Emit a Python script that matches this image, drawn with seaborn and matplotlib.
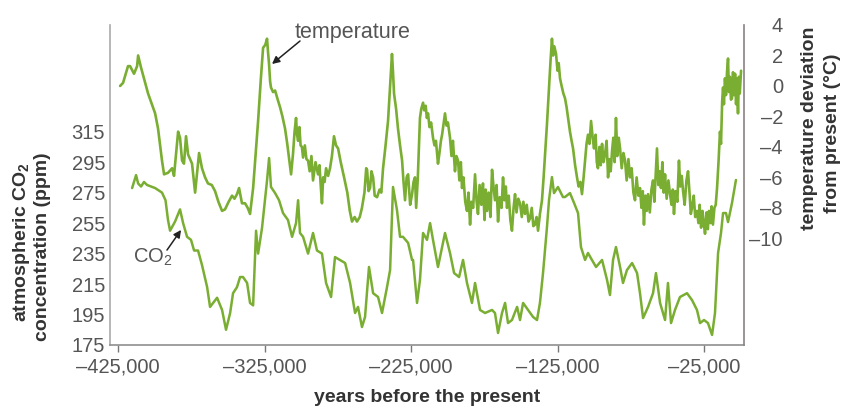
import numpy as np
import pandas as pd
import matplotlib
matplotlib.use("Agg")
import matplotlib.pyplot as plt
import seaborn as sns

# ---------------- data: (thousand years before present, value) ----------------
temp_glacial_early = [
    (-423.6, 0.0), (-421.6, 0.2), (-418.2, 1.3), (-416.8, 1.3), (-414.1, 0.8),
    (-412.0, 1.3), (-411.3, 2.0), (-409.3, 1.2), (-404.5, -0.5), (-399.7, -1.8),
    (-397.7, -2.8), (-395.0, -4.9), (-393.6, -5.8), (-390.9, -5.7), (-388.1, -5.4),
    (-386.8, -5.9), (-384.0, -3.0), (-382.7, -3.4), (-381.3, -4.9), (-380.0, -5.1),
    (-378.6, -3.3), (-377.2, -4.5), (-374.5, -5.1), (-372.4, -7.0), (-369.7, -4.4),
    (-367.7, -5.4), (-365.6, -6.0), (-363.6, -6.4), (-361.0, -6.5), (-358.8, -6.9),
    (-356.5, -7.6), (-354.0, -8.2), (-352.0, -8.1), (-349.5, -7.6), (-347.2, -7.2),
    (-345.5, -7.4), (-343.8, -7.1), (-342.4, -6.7), (-340.4, -7.7), (-338.3, -7.7),
    (-336.5, -8.0), (-334.9, -8.4), (-332.8, -6.7),
]
temp_cycle_325k = [
    (-329.4, -2.3), (-327.5, 0.5), (-326.0, 2.5), (-324.5, 2.7), (-323.3, 3.1),
    (-322.6, 2.2), (-321.9, 1.4), (-321.2, 0.3), (-320.6, -0.1), (-319.2, -0.4),
    (-317.8, -0.3), (-316.0, -0.9), (-314.4, -1.4), (-312.8, -2.0), (-311.0, -2.8),
    (-309.5, -3.8), (-308.2, -4.8), (-306.9, -5.8), (-305.6, -4.5), (-304.5, -3.0),
    (-303.5, -2.1), (-302.8, -3.2), (-302.1, -3.6), (-301.2, -2.7), (-300.4, -3.9),
    (-299.5, -4.0), (-298.7, -4.7), (-297.5, -3.9), (-296.4, -4.8), (-295.3, -4.9),
    (-294.2, -5.6), (-293.0, -4.6), (-291.9, -6.2), (-290.2, -5.0), (-288.5, -5.8),
    (-287.5, -5.2), (-286.6, -6.6), (-285.8, -7.7), (-285.0, -6.0), (-284.0, -6.3),
    (-283.0, -5.4), (-281.6, -5.9), (-280.3, -5.4), (-279.0, -4.6), (-277.6, -3.3),
    (-276.2, -3.9), (-274.8, -4.1), (-273.0, -5.0), (-270.7, -6.0), (-268.5, -7.0),
    (-266.8, -8.2), (-265.3, -8.9), (-263.5, -8.6), (-261.9, -8.9), (-260.0, -8.6),
    (-258.5, -8.0), (-256.8, -7.0), (-255.6, -5.4), (-255.0, -5.5), (-254.0, -6.9),
    (-253.0, -6.7), (-252.0, -5.6), (-250.9, -6.0), (-249.8, -7.2), (-248.2, -7.3),
    (-246.5, -6.8), (-245.3, -7.0), (-244.1, -5.4), (-242.5, -4.0), (-240.7, -2.3),
    (-239.2, 0.2), (-238.0, 2.1), (-237.3, 0.9), (-236.6, -0.5), (-235.2, -1.5),
    (-233.9, -2.8), (-232.5, -3.9), (-231.1, -4.9), (-230.2, -6.2), (-229.1, -7.5),
    (-228.0, -6.0), (-227.0, -5.8), (-225.6, -7.8), (-224.3, -7.1), (-223.3, -6.3),
]
temp_cycle_200k = [
    (-222.3, -6.0), (-221.5, -8.0), (-220.4, -6.1), (-219.6, -4.0), (-218.9, -2.1),
    (-218.0, -1.5), (-216.8, -1.1), (-216.0, -1.6), (-215.0, -1.3), (-214.2, -2.1),
    (-213.4, -1.8), (-212.4, -2.7), (-211.3, -2.4), (-210.0, -3.4), (-209.0, -3.9),
    (-208.0, -3.6), (-206.6, -5.1), (-205.6, -4.4), (-204.6, -3.6), (-203.8, -3.2),
    (-202.8, -2.5), (-201.8, -1.8), (-200.8, -2.6), (-199.8, -2.4), (-198.4, -3.4),
    (-197.4, -4.6), (-196.4, -3.6), (-195.0, -5.6), (-194.0, -4.6), (-192.9, -4.9),
    (-192.0, -6.2), (-191.0, -5.0), (-190.2, -6.7), (-189.2, -6.0), (-188.0, -7.6),
    (-186.8, -8.2), (-185.8, -7.0), (-184.7, -9.1), (-183.8, -7.6), (-182.6, -8.0),
    (-181.3, -5.8), (-180.3, -7.5), (-179.3, -8.4), (-178.2, -6.5), (-177.0, -7.8),
    (-175.9, -6.4), (-174.8, -8.8), (-174.0, -6.8), (-173.1, -8.2), (-172.0, -7.0),
    (-170.8, -8.6), (-169.7, -5.5), (-168.7, -6.6), (-167.7, -7.5), (-166.6, -6.5),
    (-165.6, -8.9), (-164.5, -7.3), (-163.2, -8.0), (-162.2, -6.0), (-161.2, -7.5),
    (-160.3, -6.6), (-159.5, -8.0), (-158.3, -7.2), (-157.2, -8.8), (-156.1, -9.5),
    (-155.0, -8.0), (-154.0, -7.1), (-153.0, -8.3), (-151.8, -7.4), (-150.6, -7.7),
    (-149.4, -8.6), (-148.3, -7.6), (-147.2, -8.4), (-146.0, -7.8), (-144.8, -8.9),
    (-143.8, -8.7), (-142.6, -8.0), (-141.5, -9.2), (-140.4, -9.1), (-139.3, -8.6),
    (-138.3, -9.5), (-137.0, -8.4), (-135.6, -7.5), (-134.5, -6.0), (-133.5, -4.5),
]
temp_cycle_recent = [
    (-132.2, -2.5), (-130.8, -0.1), (-129.8, 1.6), (-128.8, 3.1), (-128.0, 2.0),
    (-127.2, 2.6), (-126.0, 2.1), (-125.0, 1.0), (-124.2, 1.5), (-123.3, 0.5),
    (-122.2, 0.0), (-121.0, -0.5), (-119.9, -0.8), (-118.8, -1.4), (-117.8, -2.1),
    (-116.5, -3.0), (-115.4, -3.6), (-114.4, -4.1), (-113.0, -5.2), (-111.7, -6.0),
    (-110.6, -6.6), (-109.4, -6.3), (-108.3, -7.1), (-107.2, -6.0), (-106.2, -4.9),
    (-105.2, -3.8), (-104.2, -3.2), (-103.2, -3.8), (-102.1, -2.3), (-101.0, -3.4),
    (-100.1, -4.1), (-99.0, -3.2), (-98.2, -5.0), (-97.4, -5.4), (-96.4, -4.0),
    (-95.5, -5.2), (-94.6, -3.8), (-93.6, -5.0), (-92.6, -4.5), (-91.5, -3.6),
    (-90.5, -6.0), (-89.6, -4.8), (-88.7, -5.6), (-87.8, -4.3), (-86.9, -3.4),
    (-86.0, -5.0), (-85.1, -2.1), (-84.2, -4.6), (-83.2, -3.4), (-82.3, -4.1),
    (-81.2, -5.4), (-80.0, -4.4), (-78.9, -4.9), (-77.8, -6.2), (-76.6, -4.8),
    (-75.5, -6.0), (-74.4, -5.4), (-73.2, -7.0), (-72.1, -7.5), (-71.0, -6.0),
    (-69.8, -7.2), (-68.7, -6.7), (-67.7, -8.0), (-66.8, -6.9), (-66.0, -9.1),
    (-65.0, -7.2), (-64.1, -8.2), (-63.2, -7.1), (-62.0, -8.3), (-60.9, -6.8),
    (-59.8, -6.2), (-58.9, -7.6), (-58.0, -5.8), (-57.1, -4.1), (-56.2, -6.5),
    (-55.3, -5.6), (-54.4, -6.7), (-53.4, -5.0), (-52.5, -7.0), (-51.6, -5.8),
    (-50.5, -7.4), (-49.3, -6.2), (-48.2, -7.1), (-47.2, -7.8), (-46.3, -6.8),
    (-45.5, -8.4), (-44.5, -6.9), (-43.2, -7.6), (-42.1, -4.9), (-41.2, -6.6),
    (-40.2, -5.9), (-39.3, -6.9), (-38.2, -7.8), (-37.0, -6.2), (-35.9, -5.6),
    (-34.9, -7.0), (-34.0, -8.4), (-33.2, -8.0), (-32.0, -7.2), (-31.0, -8.6),
    (-29.8, -8.2), (-28.8, -9.0), (-28.0, -7.8), (-27.0, -9.3), (-26.0, -8.2),
    (-25.2, -9.0), (-24.3, -9.7), (-23.3, -8.3), (-22.4, -9.4), (-21.6, -8.2),
    (-20.6, -9.0), (-19.8, -7.9), (-18.9, -9.1), (-17.9, -8.0), (-17.0, -7.8),
    (-16.1, -6.7), (-15.1, -5.0), (-14.1, -3.0), (-13.4, -3.8), (-12.6, -1.0),
    (-12.0, -0.1), (-11.4, -1.2), (-10.7, 0.5), (-10.0, -0.6), (-9.3, 0.9),
    (-8.6, 1.8), (-8.0, -0.4), (-7.3, 0.6), (-6.6, -0.9), (-5.9, -0.8),
    (-5.2, 0.9), (-4.5, -0.6), (-3.8, 0.8), (-3.1, -1.2), (-2.5, 0.5),
    (-1.8, -1.8), (-1.2, 0.6), (-0.6, -0.5), (0.3, 1.0),
]

co2_early = [
    (-415.4, 278.0), (-412.7, 286.5), (-411.3, 281.0), (-409.3, 279.0), (-407.3, 282.0),
    (-405.2, 280.0), (-399.7, 278.0), (-395.0, 275.0), (-392.6, 270.0), (-390.9, 257.0),
    (-389.5, 250.0), (-386.1, 256.0), (-382.7, 264.0), (-380.6, 255.0), (-377.9, 246.0),
    (-375.2, 244.0), (-373.1, 237.0), (-370.4, 237.0), (-367.7, 227.5), (-364.2, 213.0),
    (-362.2, 200.0), (-357.4, 206.0), (-354.0, 198.0), (-351.3, 185.0), (-348.5, 196.0),
    (-346.5, 209.0), (-343.8, 213.0), (-341.7, 219.6), (-339.7, 219.6), (-336.9, 215.7),
    (-334.9, 202.6), (-332.8, 201.0),
]
co2_middle = [
    (-330.8, 250.0), (-329.4, 235.0), (-326.7, 252.0), (-323.3, 283.0), (-321.9, 297.7),
    (-320.6, 278.7), (-317.8, 274.7), (-315.1, 270.0), (-312.4, 261.6), (-309.0, 257.0),
    (-306.2, 246.0), (-303.5, 255.0), (-302.1, 270.0), (-300.8, 248.5), (-298.7, 246.0),
    (-295.3, 235.0), (-291.9, 248.5), (-289.2, 237.0), (-285.8, 235.0), (-283.0, 215.7),
    (-279.6, 206.5), (-276.9, 232.7), (-273.5, 230.8), (-270.0, 228.8), (-266.6, 215.7),
    (-263.2, 196.0), (-261.2, 200.0), (-258.5, 186.8), (-256.4, 193.4), (-253.7, 226.2),
    (-250.9, 209.0), (-247.5, 206.5), (-244.8, 196.0), (-241.4, 213.0), (-239.3, 224.2),
    (-237.3, 278.7), (-234.6, 263.6), (-232.5, 246.0), (-230.5, 246.0), (-227.0, 242.0),
    (-224.3, 230.8), (-223.6, 230.8), (-220.9, 202.6), (-218.9, 217.7), (-216.8, 248.5),
    (-214.1, 244.0), (-212.0, 255.0), (-210.0, 244.0), (-206.6, 226.2), (-203.8, 239.3),
    (-201.8, 248.5), (-198.4, 235.4), (-195.6, 222.2), (-192.2, 219.6), (-189.5, 230.8),
    (-186.8, 215.7), (-183.4, 202.6), (-181.3, 215.7), (-177.9, 198.0), (-174.5, 196.0),
    (-169.7, 198.0), (-167.7, 196.0), (-165.6, 182.9), (-162.9, 196.0), (-160.8, 202.6),
    (-158.8, 189.4), (-156.1, 191.4), (-152.6, 200.0), (-150.6, 191.4), (-148.5, 202.6),
    (-145.1, 198.0), (-141.7, 193.4), (-139.0, 191.4), (-137.0, 202.6), (-134.9, 222.2),
    (-132.2, 252.4), (-130.8, 270.1), (-128.8, 285.2),
]
co2_recent = [
    (-127.4, 274.7), (-124.7, 278.7), (-121.3, 272.1), (-119.9, 272.1), (-116.5, 274.7),
    (-113.7, 268.2), (-111.0, 261.6), (-109.0, 239.3), (-106.2, 230.8), (-104.2, 235.4),
    (-101.5, 230.8), (-98.7, 226.2), (-94.6, 230.8), (-91.2, 217.7), (-89.2, 207.8),
    (-87.1, 230.8), (-85.1, 239.3), (-82.3, 226.2), (-80.3, 215.7), (-77.6, 224.2),
    (-74.1, 228.8), (-70.7, 222.2), (-68.7, 209.0), (-66.6, 192.7), (-63.2, 200.0),
    (-59.8, 209.0), (-57.8, 222.2), (-55.0, 202.6), (-51.6, 191.4), (-49.6, 215.7),
    (-47.5, 189.4), (-44.8, 198.0), (-41.4, 206.5), (-36.6, 209.0), (-33.2, 204.5),
    (-29.8, 198.0), (-27.7, 189.4), (-25.0, 191.4), (-22.3, 189.4), (-19.5, 181.6),
    (-17.5, 196.0), (-15.4, 235.4), (-13.4, 248.5), (-12.0, 261.6), (-10.0, 261.6),
    (-8.6, 255.7), (-5.9, 268.2), (-3.2, 283.3),
]

x_ticks = [-425000, -325000, -225000, -125000, -25000]
x_tick_labels = ["\u2013425,000", "\u2013325,000", "\u2013225,000", "\u2013125,000", "\u201325,000"]
co2_ticks = [175, 195, 215, 235, 255, 275, 295, 315]
temp_ticks = [-10, -8, -6, -4, -2, 0, 2, 4]
temp_tick_labels = ["\u201310", "\u20138", "\u20136", "\u20134", "\u20132", "0", "2", "4"]

# ---------------- styling ----------------
sns.set_theme(style="white")
plt.rcParams["font.family"] = ["Liberation Sans", "DejaVu Sans"]
plt.rcParams["mathtext.fontset"] = "custom"
plt.rcParams["mathtext.rm"] = "Liberation Sans"
plt.rcParams["mathtext.it"] = "Liberation Sans:italic"
plt.rcParams["mathtext.bf"] = "Liberation Sans:bold"

GREEN = "#7aae32"
TICK_C = "#555555"
LABEL_C = "#333333"
W, H = 845, 409

temp_pts = temp_glacial_early + temp_cycle_325k + temp_cycle_200k + temp_cycle_recent
co2_pts = co2_early + co2_middle + co2_recent
temp_df = pd.DataFrame({"year": [p[0] * 1000 for p in temp_pts],
                        "temp": [p[1] for p in temp_pts]})
co2_df = pd.DataFrame({"year": [p[0] * 1000 for p in co2_pts],
                       "co2": [p[1] for p in co2_pts]})

fig = plt.figure(figsize=(W / 100, H / 100), dpi=100)
fig.patch.set_facecolor("white")
ax = fig.add_axes([110 / W, 1 - 345 / H, 634 / W, 320 / H])

sns.lineplot(data=co2_df, x="year", y="co2", ax=ax, color=GREEN, lw=1.8,
             sort=False, estimator=None)
ax2 = ax.twinx()
sns.lineplot(data=temp_df, x="year", y="temp", ax=ax2, color=GREEN, lw=1.9,
             sort=False, estimator=None)

ax.set_xlim(-430500, 2300)
ax.set_ylim(175, 385)
ax2.set_ylim(-17, 4)

ax.set_xticks(x_ticks)
ax.set_xticklabels(x_tick_labels)
ax.set_yticks(co2_ticks)
ax.set_yticklabels([str(v) for v in co2_ticks])
ax2.set_yticks(temp_ticks)
ax2.set_yticklabels(temp_tick_labels)

ax.set_xlabel("")
ax.set_ylabel("")
ax2.set_ylabel("")

for a in (ax, ax2):
    a.set_facecolor("none")
    a.grid(False)
    a.spines["top"].set_visible(False)
ax.spines["right"].set_visible(False)
ax2.spines["left"].set_visible(False)
ax2.spines["bottom"].set_visible(False)
ax.spines["left"].set_color("#aaaaaa")
ax.spines["left"].set_linewidth(1.2)
ax.spines["bottom"].set_color("#8f8f8f")
ax.spines["bottom"].set_linewidth(1.2)
ax2.spines["right"].set_color("#8a8282")
ax2.spines["right"].set_linewidth(1.2)

ax.tick_params(axis="x", direction="out", length=5, width=1, color="#777777",
               pad=4, labelsize=14.5, labelcolor=TICK_C, bottom=True)
ax.tick_params(axis="y", length=0, pad=3.5, labelsize=14.5, labelcolor=TICK_C)
ax2.tick_params(axis="y", length=0, pad=28, labelsize=14.5, labelcolor=TICK_C)
for lbl in ax2.get_yticklabels():
    lbl.set_horizontalalignment("right")

# annotations
ax2.text(-304500, 3.5, "temperature", fontsize=15.5, color=TICK_C,
         ha="left", va="center")
ax2.annotate("", xy=(-319900, 1.44), xytext=(-300800, 2.95),
             arrowprops=dict(arrowstyle="-|>", color="#222222", lw=1.1,
                             mutation_scale=11, shrinkA=0, shrinkB=0))
ax.text(-414800, 232.7, "CO$_{2}$", fontsize=14.5, color=TICK_C,
        ha="left", va="center")
ax.annotate("", xy=(-382000, 250.5), xytext=(-391600, 237.3),
            arrowprops=dict(arrowstyle="-|>", color="#222222", lw=1.1,
                            mutation_scale=11, shrinkA=0, shrinkB=0))

# axis titles
fig.text(22 / W, 1 - 242 / H, r"atmospheric CO$_\mathbf{2}$", rotation=90,
         ha="center", va="center", fontsize=14, fontweight="bold", color=LABEL_C)
fig.text(43 / W, 1 - 247 / H, "concentration (ppm)", rotation=90,
         ha="center", va="center", fontsize=14, fontweight="bold", color=LABEL_C)
fig.text(810 / W, 1 - 128 / H, "temperature deviation", rotation=90,
         ha="center", va="center", fontsize=14, fontweight="bold", color=LABEL_C)
fig.text(833 / W, 1 - 133 / H, "from present (\u00b0C)", rotation=90,
         ha="center", va="center", fontsize=14, fontweight="bold", color=LABEL_C)
fig.text(427 / W, 1 - 398 / H, "years before the present",
         ha="center", va="center", fontsize=14, fontweight="bold", color=LABEL_C)

fig.savefig("out.png", dpi=100, facecolor="white")
